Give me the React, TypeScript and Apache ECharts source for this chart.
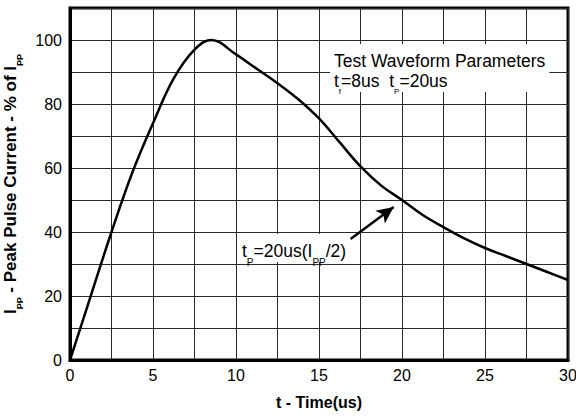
import React, { useEffect, useRef } from 'react';
import * as echarts from 'echarts';

// Pulse waveform (8/20us)
const timeUs = [0, 1.25, 2.5, 3.75, 5, 6.25, 7.5, 8.5, 10, 11.25, 12.5, 13.75, 15, 16.25, 17.5, 18.75, 20, 21.25, 22.5, 23.75, 25, 26.25, 27.5, 28.75, 30];
const currentPct = [0, 20, 40, 58.5, 74, 88, 97, 100, 95.5, 91, 86.5, 81.5, 75.5, 68, 60.5, 54.5, 50, 45.3, 41.5, 38, 35, 32.5, 30, 27.5, 25];

const xTickLabels = [0, 5, 10, 15, 20, 25, 30];
const yTickLabels = [0, 20, 40, 60, 80, 100];

// Annotation arrow (data coordinates) pointing at tP = 20us, Ipp/2
const arrowFrom = [16.9, 37.8];
const arrowTo = [19.5, 47.8];

const FONT = '"Liberation Sans", Arial, sans-serif';

export default function App() {
  const ref = useRef<HTMLDivElement>(null);

  useEffect(() => {
    document.body.style.margin = '0';
    if (!ref.current) return;
    const chart = echarts.init(ref.current, undefined, { renderer: 'svg' });

    const subRich = (size: number, pad: number, weight: string, lh = 2) => ({
      fontSize: size,
      fontWeight: weight,
      fontFamily: FONT,
      color: '#000',
      lineHeight: lh,
      verticalAlign: 'top',
      padding: [pad, 0, 0, 0],
    });
    const mainRich = (size: number, weight: string, lh: number) => ({
      fontSize: size,
      fontWeight: weight,
      fontFamily: FONT,
      color: '#000',
      lineHeight: lh,
      verticalAlign: 'top',
    });

    const data = timeUs.map((t, i) => [t, currentPct[i]]);

    chart.setOption({
      animation: false,
      backgroundColor: '#fff',
      grid: {
        left: 70,
        right: 8,
        top: 8,
        bottom: 56,
        show: true,
        borderColor: '#000',
        borderWidth: 3,
        containLabel: false,
        outerBoundsMode: 'none',
      },
      xAxis: {
        type: 'value',
        min: 0,
        max: 30,
        interval: 2.5,
        name: 't - Time(us)',
        nameLocation: 'middle',
        nameGap: 34,
        nameTextStyle: { fontFamily: FONT, fontWeight: 'bold', fontSize: 16, color: '#000' },
        axisLine: { show: true, lineStyle: { color: '#000', width: 3 } },
        axisTick: { show: false },
        axisLabel: {
          margin: 7,
          fontFamily: FONT,
          fontSize: 16,
          color: '#000',
          formatter: (v: number) => (xTickLabels.includes(v) ? String(v) : ''),
        },
        splitLine: { show: true, lineStyle: { color: '#2a2a2a', width: 1 } },
      },
      yAxis: {
        type: 'value',
        min: 0,
        max: 110,
        interval: 10,
        name: '{b|I}{bs|PP}{b| - Peak Pulse Current - % of I}{bs|PP}',
        nameLocation: 'middle',
        nameGap: 44,
        nameTextStyle: {
          fontFamily: FONT,
          fontWeight: 'bold',
          fontSize: 17,
          color: '#000',
          rich: {
            b: mainRich(17, 'bold', 20),
            bs: subRich(9, 13, 'bold', 8),
          },
        },
        axisLine: { show: true, lineStyle: { color: '#000', width: 3 } },
        axisTick: { show: false },
        axisLabel: {
          margin: 8,
          fontFamily: FONT,
          fontSize: 16,
          color: '#000',
          formatter: (v: number) => (yTickLabels.includes(v) ? String(v) : ''),
        },
        splitLine: { show: true, lineStyle: { color: '#2a2a2a', width: 1 } },
      },
      series: [
        {
          type: 'line',
          data,
          smooth: 0.4,
          showSymbol: false,
          symbol: 'none',
          lineStyle: { color: '#000', width: 2.5 },
          silent: true,
          z: 5,
          markLine: {
            silent: true,
            symbol: ['none', 'arrow'],
            symbolSize: [12, 17],
            label: { show: false },
            lineStyle: { color: '#000', width: 2.5, type: 'solid' },
            emphasis: { disabled: true },
            data: [[{ coord: arrowFrom }, { coord: arrowTo }]],
          },
        },
      ],
      graphic: [
        {
          type: 'text',
          left: 330,
          top: 44,
          z: 100,
          style: {
            text: '{m|Test Waveform Parameters}\n{m|t}{s|f}{m|=8us  t}{s|P}{m|=20us}',
            backgroundColor: '#fff',
            padding: [8, 4, 0, 4],
            rich: {
              m: mainRich(17.5, 'normal', 20),
              s: subRich(8, 15.5, 'normal'),
            },
          },
        },
        {
          type: 'text',
          left: 238,
          top: 234,
          z: 100,
          style: {
            text: '{m|t}{s|P}{m|=20us(I}{s|PP}{m|/2)}',
            backgroundColor: '#fff',
            padding: [8, 4, 0, 4],
            rich: {
              m: mainRich(17.5, 'normal', 20),
              s: subRich(10, 15, 'normal'),
            },
          },
        },
      ],
    });

    return () => chart.dispose();
  }, []);

  return <div ref={ref} style={{ width: 576, height: 416 }} />;
}
